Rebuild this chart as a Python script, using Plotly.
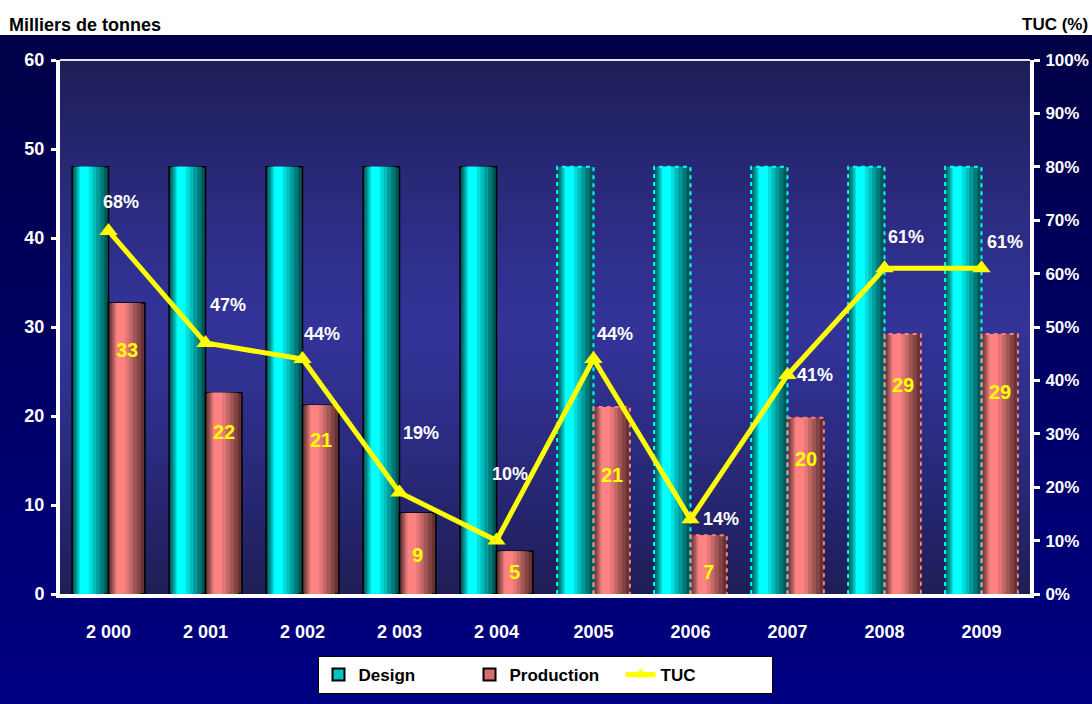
import plotly.graph_objects as go

# ---------------- data ----------------
years = ["2 000", "2 001", "2 002", "2 003", "2 004", "2005", "2006", "2007", "2008", "2009"]
design = [48, 48, 48, 48, 48, 48, 48, 48, 48, 48]
production = [32.7, 22.6, 21.2, 9.1, 4.8, 21.0, 6.6, 19.8, 29.2, 29.2]
production_labels = ["33", "22", "21", "9", "5", "21", "7", "20", "29", "29"]
tuc = [0.68, 0.47, 0.44, 0.19, 0.10, 0.44, 0.14, 0.41, 0.61, 0.61]
estimated = [False, False, False, False, False, True, True, True, True, True]  # dashed outline years

# ---------------- styling ----------------
FONT = "Liberation Sans, Arial, sans-serif"
W, H = 1092, 704
ML, MR, MT, MB = 60, 62, 60, 110
PW, PH = W - ML - MR, H - MT - MB
BW = 0.375  # bar width (category units)

# label offsets (px) – styling only
tuc_shift = [(12, 29), (22, 38), (19, 25), (21, 60), (13, 67), (21, 25), (30, 0), (27, 0), (21, 31), (23, 26)]
prod_shift = [47, 39, 35, 42, 21, 68, 37, 41, 51, 58]

xs = list(range(len(years)))


def hexmix(c1, c2, t):
    a = [int(c1[i:i + 2], 16) for i in (1, 3, 5)]
    b = [int(c2[i:i + 2], 16) for i in (1, 3, 5)]
    return "#%02x%02x%02x" % tuple(round(a[k] + (b[k] - a[k]) * t) for k in range(3))


fig = go.Figure()

fracs = [1.0, 0.84, 0.68, 0.52, 0.38, 0.24]
design_cols = ["#005757", "#007878", "#009a9a", "#00bcbc", "#00dede", "#00ffff"]
prod_cols = ["#663232", "#824444", "#a25656", "#c46868", "#e47676", "#ff8282"]


def add_cylinder(vals, center_off, cols, name):
    for k, (f, c) in enumerate(zip(fracs, cols)):
        w = BW * f
        shift = -0.012 * k  # highlight slightly left
        line_w = [0 if e else 1.5 for e in estimated] if k == 0 else 0
        fig.add_trace(go.Bar(
            x=xs, y=vals, width=[w] * len(xs),
            offset=[center_off - w / 2 + (shift if k else 0)] * len(xs),
            marker=dict(color=c, line=dict(color="black", width=line_w)),
            showlegend=False, hoverinfo="skip", name=name,
        ))


add_cylinder(design, -BW / 2, design_cols, "Design")
add_cylinder(production, BW / 2, prod_cols, "Production")


# dashed outlines for estimated years
def dashed_outline(vals, center_off, color):
    ox, oy = [], []
    for i, v in enumerate(vals):
        if estimated[i]:
            l = xs[i] + center_off - BW / 2
            r = xs[i] + center_off + BW / 2
            ox += [l, l, r, r, None]
            oy += [0, v, v, 0, None]
    fig.add_trace(go.Scatter(x=ox, y=oy, mode="lines", line=dict(color=color, width=2, dash="4px,4px"),
                             showlegend=False, hoverinfo="skip"))


dashed_outline(design, -BW / 2, "#00ffff")
dashed_outline(production, BW / 2, "#ff8080")

# legend entries
fig.add_trace(go.Bar(x=[None], y=[None], name="<b>Design</b>",
                     marker=dict(color="#00c4c4", line=dict(color="black", width=1.5))))
fig.add_trace(go.Bar(x=[None], y=[None], name="<b>Production</b>",
                     marker=dict(color="#d46e6e", line=dict(color="black", width=1.5))))

# TUC line
fig.add_trace(go.Scatter(x=xs, y=tuc, yaxis="y2", mode="lines+markers", name="<b>TUC</b>",
                         line=dict(color="#ffff00", width=5),
                         marker=dict(symbol="triangle-up", size=16, color="#ffff00"),
                         hoverinfo="skip"))

shapes = []
# outer background gradient (paper)
y_top = 1 + (MT - 36) / PH
y_bot = -MB / PH - 0.01
n = 40
for i in range(n):
    y0 = y_bot + (y_top - y_bot) * i / n
    y1 = y_bot + (y_top - y_bot) * (i + 1) / n + 0.002
    shapes.append(dict(type="rect", xref="paper", yref="paper", x0=-ML / PW - 0.01, x1=1 + MR / PW + 0.01,
                       y0=y0, y1=y1, line=dict(width=0), layer="below",
                       fillcolor=hexmix("#000084", "#000046", (i + 0.5) / n)))
# plot area gradient
n = 50
for i in range(n):
    t = (i + 0.5) / n
    d = abs(t - 0.5) * 2
    shapes.append(dict(type="rect", xref="x domain", yref="y domain", x0=0, x1=1,
                       y0=i / n, y1=(i + 1) / n + 0.001, line=dict(width=0), layer="below",
                       fillcolor=hexmix("#333399", "#1e1e56", d ** 1.2)))
# top border line of plot area
shapes.append(dict(type="line", xref="x domain", yref="y domain", x0=0, x1=1, y0=1, y1=1,
                   line=dict(color="#e0e0ee", width=2)))

annotations = [
    dict(text="<b>Milliers de tonnes</b>", xref="paper", yref="paper", x=(7 - ML) / PW, y=(H - MB - 25) / PH,
         xanchor="left", yanchor="middle", showarrow=False, font=dict(family=FONT, size=18, color="black")),
    dict(text="<b>TUC (%)</b>", xref="paper", yref="paper", x=(1090 - ML) / PW, y=(H - MB - 25) / PH,
         xanchor="right", yanchor="middle", showarrow=False, font=dict(family=FONT, size=17, color="black")),
]
for i in xs:
    annotations.append(dict(text="<b>%d%%</b>" % round(tuc[i] * 100), x=xs[i], y=tuc[i], xref="x", yref="y2",
                            xshift=tuc_shift[i][0], yshift=tuc_shift[i][1], showarrow=False,
                            font=dict(family=FONT, size=18, color="white")))
    annotations.append(dict(text="<b>%s</b>" % production_labels[i], x=xs[i] + BW / 2, y=production[i],
                            xref="x", yref="y", yshift=-prod_shift[i], showarrow=False,
                            font=dict(family=FONT, size=20, color="#ffff00")))

fig.update_layout(
    width=W, height=H,
    margin=dict(l=ML, r=MR, t=MT, b=MB, autoexpand=False),
    paper_bgcolor="white",
    plot_bgcolor="rgba(0,0,0,0)",
    barmode="overlay",
    font=dict(family=FONT, color="white", size=18),
    shapes=shapes,
    annotations=annotations,
    xaxis=dict(range=[-0.5, 9.5], tickvals=xs, ticktext=["<b>%s</b>" % y for y in years],
               showline=True, linecolor="white", linewidth=4, ticks="", showgrid=False, zeroline=False,
               automargin=False,
               ticklabelstandoff=18, tickfont=dict(family=FONT, size=18, color="white")),
    yaxis=dict(range=[0, 60], dtick=10, showline=True, linecolor="white", linewidth=4, ticks="outside",
               ticklen=5, tickwidth=3, tickcolor="white", showgrid=False, zeroline=False, automargin=False,
               tickprefix="<b>", ticksuffix="</b>", ticklabelstandoff=3,
               tickfont=dict(family=FONT, size=18, color="white")),
    yaxis2=dict(range=[0, 1], dtick=0.1, tickformat=".0%", overlaying="y", side="right",
                showline=True, linecolor="white", linewidth=4, ticks="outside", ticklen=6, tickwidth=3,
                tickcolor="white", showgrid=False, zeroline=False, tickprefix="<b>", ticksuffix="</b>",
                automargin=False,
                ticklabelstandoff=2, tickfont=dict(family=FONT, size=17, color="white")),
    legend=dict(orientation="h", x=0.5, xanchor="center", y=(H - MB - 656) / PH, yanchor="top",
                bgcolor="white", bordercolor="black", borderwidth=1, traceorder="normal",
                font=dict(family=FONT, size=17, color="black"), entrywidth=106, itemsizing="constant"),
)

fig.write_html("out.html")
